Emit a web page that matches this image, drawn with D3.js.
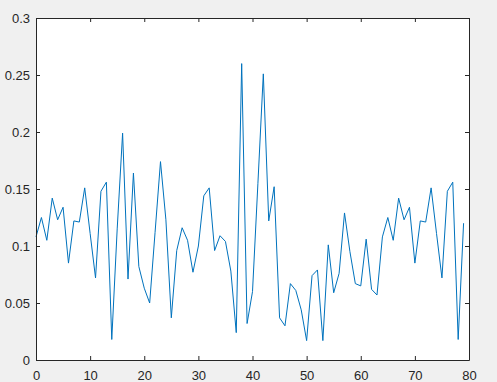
<!DOCTYPE html>
<html>
<head>
<meta charset="utf-8">
<script src="https://cdn.jsdelivr.net/npm/d3@7"></script>
<style>
  body { margin: 0; background: #f0f0f0; }
  svg { display: block; }
  .tick text { font-family: "Liberation Sans", Arial, sans-serif; font-size: 13px; fill: #262626; }
</style>
</head>
<body>
<svg id="chart" width="497" height="382"></svg>
<script>
// values, one per sample index 0..79
const values = [
  0.108, 0.125, 0.105, 0.142, 0.123, 0.134, 0.085, 0.122, 0.121, 0.151,
  0.111, 0.072, 0.148, 0.156, 0.018, 0.115, 0.199, 0.071, 0.164, 0.082,
  0.063, 0.050, 0.112, 0.174, 0.123, 0.037, 0.096, 0.116, 0.105, 0.077,
  0.100, 0.144, 0.151, 0.096, 0.109, 0.104, 0.078, 0.024, 0.260, 0.032,
  0.060, 0.155, 0.251, 0.122, 0.152, 0.037, 0.030, 0.067, 0.061, 0.044,
  0.017, 0.074, 0.079, 0.017, 0.101, 0.059, 0.076, 0.129, 0.095, 0.067,
  0.065, 0.106, 0.062, 0.057, 0.108, 0.125, 0.105, 0.142, 0.123, 0.134,
  0.085, 0.122, 0.121, 0.151, 0.111, 0.072, 0.148, 0.156, 0.018, 0.120
];
const xTicks = [0, 10, 20, 30, 40, 50, 60, 70, 80];
const yTicks = [0, 0.05, 0.1, 0.15, 0.2, 0.25, 0.3];

const m = { left: 36, right: 469, top: 18, bottom: 360 };
const svg = d3.select('#chart');

const x = d3.scaleLinear().domain([0, 80]).range([m.left, m.right]);
const y = d3.scaleLinear().domain([0, 0.3]).range([m.bottom, m.top]);

// white plot area
svg.append('rect')
  .attr('x', m.left).attr('y', m.top)
  .attr('width', m.right - m.left).attr('height', m.bottom - m.top)
  .attr('fill', '#fff');

// data line
svg.append('path')
  .datum(values)
  .attr('fill', 'none')
  .attr('stroke', '#0072bd')
  .attr('stroke-width', 1)
  .attr('d', d3.line().x((d, i) => x(i)).y(d => y(d)));

// axes, ticks pointing inward like matlab
const fmt = d => String(+d.toFixed(2));
svg.append('g').attr('transform', `translate(0,${m.bottom})`)
  .call(d3.axisBottom(x).tickValues(xTicks).tickSizeInner(-4).tickSizeOuter(0).tickPadding(11).tickFormat(fmt));
svg.append('g').attr('transform', `translate(${m.left},0)`)
  .call(d3.axisLeft(y).tickValues(yTicks).tickSizeInner(-4).tickSizeOuter(0).tickPadding(6).tickFormat(fmt));
svg.append('g').attr('transform', `translate(0,${m.top})`)
  .call(d3.axisTop(x).tickValues(xTicks).tickSizeInner(-4).tickSizeOuter(0).tickFormat(''));
svg.append('g').attr('transform', `translate(${m.right},0)`)
  .call(d3.axisRight(y).tickValues(yTicks).tickSizeInner(-4).tickSizeOuter(0).tickFormat(''));

svg.selectAll('.domain, .tick line').attr('stroke', '#262626');
</script>
</body>
</html>
